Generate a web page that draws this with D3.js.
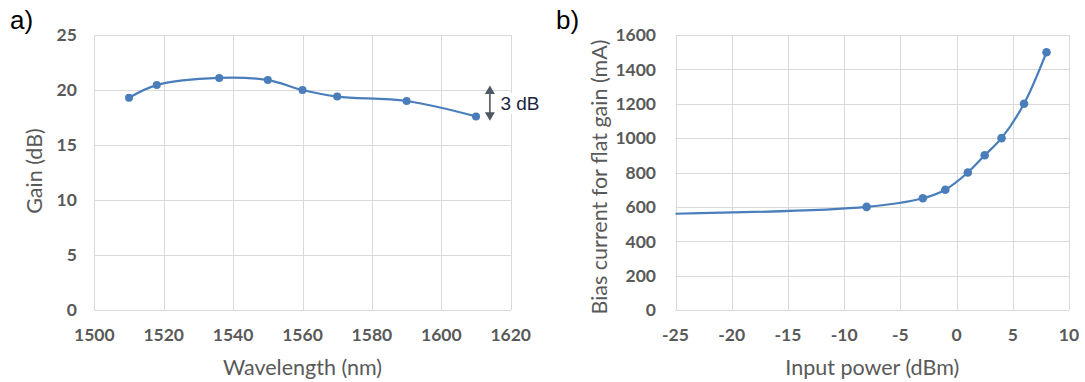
<!DOCTYPE html>
<html><head><meta charset="utf-8">
<script src="https://cdn.jsdelivr.net/npm/d3@7"></script>
<style>body{margin:0;background:#fff}svg{display:block}</style>
</head><body>
<script>
// ---- data ----
const wavelength = [1510, 1518, 1536, 1550, 1560, 1570, 1590, 1610];
const gain = [19.3, 20.45, 21.1, 20.9, 20.0, 19.4, 19.0, 17.6];
const gainTicksX = [1500, 1520, 1540, 1560, 1580, 1600, 1620];
const gainTicksY = [0, 5, 10, 15, 20, 25];
const flatness = {x: 1614, from: 17.2, to: 20.4, label: "3 dB"};

const inputPower = [-25, -8, -3, -1, 1, 2.5, 4, 6, 8];
const biasCurrent = [560, 600, 650, 700, 800, 900, 1000, 1200, 1500];
const hasMarker = [false, true, true, true, true, true, true, true, true];
const powerTicksX = [-25, -20, -15, -10, -5, 0, 5, 10];
const biasTicksY = [0, 200, 400, 600, 800, 1000, 1200, 1400, 1600];

const W = 1085, H = 382;
const svg = d3.select("body").append("svg").attr("width", W).attr("height", H);
svg.append("rect").attr("width", W).attr("height", H).attr("fill", "#fff");

const blue = "#4a7ebb", grid = "#d9d9d9", tickCol = "#595959";
const tickFont = "Lato, 'Liberation Sans', sans-serif";

function panel(o) {
  const g = svg.append("g");
  const x = d3.scaleLinear().domain(o.xDomain).range([o.left, o.right]);
  const y = d3.scaleLinear().domain(o.yDomain).range([o.bottom, o.top]);
  // grid
  g.selectAll(".gx").data(o.xTicks).join("line")
    .attr("x1", d => Math.round(x(d)) + 0.5).attr("x2", d => Math.round(x(d)) + 0.5)
    .attr("y1", o.top).attr("y2", o.bottom).attr("stroke", grid).attr("stroke-width", 1);
  g.selectAll(".gy").data(o.yTicks).join("line")
    .attr("y1", d => Math.round(y(d)) + 0.5).attr("y2", d => Math.round(y(d)) + 0.5)
    .attr("x1", o.left).attr("x2", o.right).attr("stroke", grid).attr("stroke-width", 1);
  // tick labels
  g.selectAll(".tx").data(o.xTicks).join("text")
    .attr("x", d => x(d)).attr("y", o.bottom + 25).attr("dy", "0.36em")
    .attr("text-anchor", "middle").attr("font-family", tickFont).attr("font-weight", "bold")
    .attr("font-size", 17.5).attr("fill", tickCol).text(d => d);
  g.selectAll(".ty").data(o.yTicks).join("text")
    .attr("x", o.left - o.tickGap).attr("y", d => y(d)).attr("dy", "0.36em")
    .attr("text-anchor", "end").attr("font-family", tickFont).attr("font-weight", "bold")
    .attr("font-size", 17.5).attr("fill", tickCol).text(d => d);
  // axis titles
  g.append("text").attr("x", (o.left + o.right) / 2).attr("y", 375)
    .attr("text-anchor", "middle").attr("font-family", tickFont).attr("font-size", 21.5)
    .attr("fill", tickCol).text(o.xTitle);
  g.append("text").attr("transform", `translate(${o.yTitleX},${o.yTitleY}) rotate(-90)`)
    .attr("text-anchor", "middle").attr("dy", "0.35em").attr("font-family", tickFont).attr("font-size", 21.5)
    .attr("fill", tickCol).text(o.yTitle);
  // panel label
  g.append("text").attr("x", o.labelX).attr("y", 29).attr("font-family", "'Liberation Sans', Arial, sans-serif")
    .attr("font-size", 26).attr("fill", "#000").text(o.label);
  // line
  const pts = o.xs.map((v, i) => [v, o.ys[i], o.mk ? o.mk[i] : true]);
  const line = d3.line().x(d => x(d[0])).y(d => y(d[1])).curve(d3.curveCatmullRom.alpha(0.5));
  g.append("path").datum(pts).attr("d", line).attr("fill", "none")
    .attr("stroke", blue).attr("stroke-width", 2.25);
  g.selectAll(".pt").data(pts.filter(d => d[2])).join("circle")
    .attr("cx", d => x(d[0])).attr("cy", d => y(d[1])).attr("r", o.r).attr("fill", blue);
  return {x, y, g};
}

const a = panel({
  left: 94.3, right: 510.7, top: 35, bottom: 310, tickGap: 17.5,
  xDomain: [1500, 1620], yDomain: [0, 25], xTicks: gainTicksX, yTicks: gainTicksY,
  xs: wavelength, ys: gain, r: 4,
  xTitle: "Wavelength (nm)", yTitle: "Gain (dB)", yTitleX: 34.5, yTitleY: 171, label: "a)", labelX: 10
});

// 3 dB arrow
const ax = a.x(flatness.x), ay1 = a.y(flatness.to), ay2 = a.y(flatness.from);
const arrowCol = "#4f5762";
a.g.append("line").attr("x1", ax).attr("x2", ax).attr("y1", ay1 + 6).attr("y2", ay2 - 6)
  .attr("stroke", arrowCol).attr("stroke-width", 1.6);
a.g.append("path").attr("d", `M${ax - 5},${ay1 + 8.5} L${ax},${ay1} L${ax + 5},${ay1 + 8.5} Z`).attr("fill", arrowCol);
a.g.append("path").attr("d", `M${ax - 5},${ay2 - 8.5} L${ax},${ay2} L${ax + 5},${ay2 - 8.5} Z`).attr("fill", arrowCol);
const lbl = a.g.append("text").attr("x", ax + 10.5).attr("y", (ay1 + ay2) / 2).attr("dy", "0.36em")
  .attr("font-family", "'Liberation Sans', Arial, sans-serif").attr("font-size", 19)
  .attr("fill", "#1c2540").text(flatness.label);
const bb = lbl.node().getBBox();
a.g.insert("rect", () => lbl.node()).attr("x", bb.x - 1).attr("y", bb.y).attr("width", bb.width + 2)
  .attr("height", bb.height).attr("fill", "#fff");

panel({
  left: 675.5, right: 1069, top: 35, bottom: 310, tickGap: 19.5,
  xDomain: [-25, 10], yDomain: [0, 1600], xTicks: powerTicksX, yTicks: biasTicksY,
  xs: inputPower, ys: biasCurrent, mk: hasMarker, r: 4.3,
  xTitle: "Input power (dBm)", yTitle: "Bias current for flat gain (mA)", yTitleX: 599, yTitleY: 177, label: "b)", labelX: 556
});
</script>
</body></html>
